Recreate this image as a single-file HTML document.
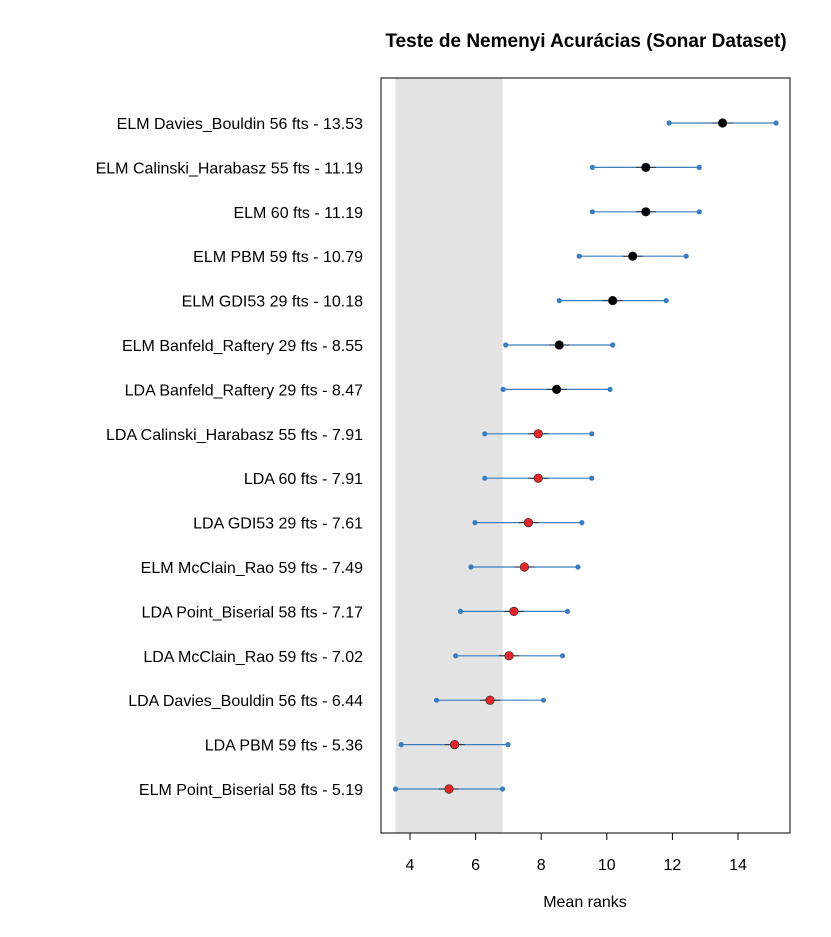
<!DOCTYPE html>
<html><head><meta charset="utf-8"><style>
body{margin:0;background:#fff}
text{font-family:"Liberation Sans",sans-serif}
</style></head><body>
<svg id="chart" width="831" height="932"></svg>
<script>
const labels=["ELM Davies_Bouldin 56 fts - 13.53","ELM Calinski_Harabasz 55 fts - 11.19","ELM 60 fts - 11.19","ELM PBM 59 fts - 10.79","ELM GDI53 29 fts - 10.18","ELM Banfeld_Raftery 29 fts - 8.55","LDA Banfeld_Raftery 29 fts - 8.47","LDA Calinski_Harabasz 55 fts - 7.91","LDA 60 fts - 7.91","LDA GDI53 29 fts - 7.61","ELM McClain_Rao 59 fts - 7.49","LDA Point_Biserial 58 fts - 7.17","LDA McClain_Rao 59 fts - 7.02","LDA Davies_Bouldin 56 fts - 6.44","LDA PBM 59 fts - 5.36","ELM Point_Biserial 58 fts - 5.19"];
const means=[13.53,11.19,11.19,10.79,10.18,8.55,8.47,7.91,7.91,7.61,7.49,7.17,7.02,6.44,5.36,5.19];
const significant=[0,0,0,0,0,0,0,1,1,1,1,1,1,1,1,1];
const criticalDiff=1.63;
const ticks=[4,6,8,10,12,14];
const ns="http://www.w3.org/2000/svg";
const svg=document.getElementById('chart');
const L=381,R=790,T=78,B=833;
const x=v=>410+(v-4)*32.8;
const y=i=>123+i*44.4;
function mk(t,a,p){const e=document.createElementNS(ns,t);for(const k in a)e.setAttribute(k,a[k]);(p||svg).appendChild(e);return e;}
const best=Math.min(...means);
const band=mk('rect',{x:x(best-criticalDiff),y:T,width:x(best+criticalDiff)-x(best-criticalDiff),height:B-T,fill:'#e3e3e3'});


const box=mk('rect',{x:L,y:T,width:R-L,height:B-T,fill:'none',stroke:'#000'});


const title=mk('text',{x:586,y:47,'text-anchor':'middle','font-size':19,'font-weight':'bold'});
title.textContent='Teste de Nemenyi Acurácias (Sonar Dataset)';


const xt=mk('text',{x:585,y:907,'text-anchor':'middle','font-size':16});
xt.textContent='Mean ranks';


mk('line',{x1:x(4),x2:x(14),y1:B,y2:B,stroke:'#000'});
ticks.forEach(t=>{
  mk('line',{x1:x(t),x2:x(t),y1:B,y2:B+7,stroke:'#000'});
  const tl=mk('text',{x:x(t),y:870,'text-anchor':'middle','font-size':16});
  tl.textContent=t;
  
  
});
means.forEach((m,i)=>{
  const g=mk('g',{});
  
  
  const lab=mk('text',{x:363,y:y(i)+6,'text-anchor':'end','font-size':16},g);
  lab.textContent=labels[i];
  
  
  const a=x(m-criticalDiff),b=x(m+criticalDiff);
  mk('line',{x1:a,x2:b,y1:y(i),y2:y(i),stroke:'#3a7dbf','stroke-width':1.2},g);
  mk('line',{x1:x(m)-10,x2:x(m)+10,y1:y(i),y2:y(i),stroke:'#333','stroke-width':1},g);
  mk('circle',{cx:a,cy:y(i),r:2.6,fill:'#3a7dbf'},g);
  mk('circle',{cx:b,cy:y(i),r:2.6,fill:'#3a7dbf'},g);
  const p=mk('circle',{cx:x(m),cy:y(i),r:4.3,fill:significant[i]?'#e3262a':'#000',stroke:'#222','stroke-width':0.6},g);
  
  
});
</script>
</body></html>
